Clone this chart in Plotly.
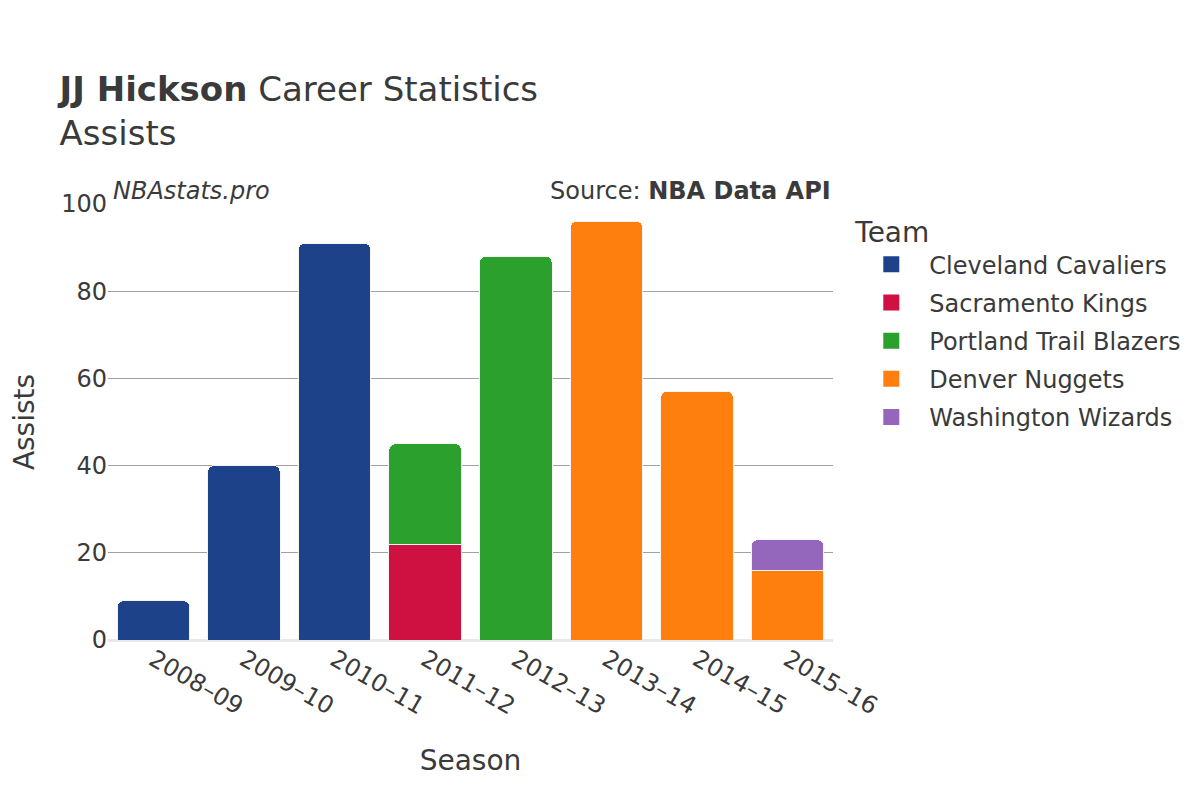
import plotly.graph_objects as go

seasons = ["2008–09", "2009–10", "2010–11", "2011–12", "2012–13", "2013–14", "2014–15", "2015–16"]
teams = ["Cleveland Cavaliers", "Sacramento Kings", "Portland Trail Blazers", "Denver Nuggets", "Washington Wizards"]
colors = ["#1d428a", "#ce1141", "#2ca02c", "#ff7f0e", "#9467bd"]
cle = [9, 40, 91, None, None, None, None, None]
sac = [None, None, None, 22, None, None, None, None]
por = [None, None, None, 23, 88, None, None, None]
den = [None, None, None, None, None, 96, 57, 16]
was = [None, None, None, None, None, None, None, 7]
values = [cle, sac, por, den, was]

fig = go.Figure()
for name, col, vals in zip(teams, colors, values):
    fig.add_trace(go.Bar(x=seasons, y=vals, name=name, legendgroup=name, showlegend=False,
                         marker=dict(color=col, line=dict(color="#f4f4f4", width=1))))
for name, col in zip(teams, colors):
    fig.add_trace(go.Scatter(x=[None], y=[None], mode="markers", name=name, legendgroup=name,
                             marker=dict(symbol="square", size=22, color=col)))

font = "DejaVu Sans"
fig.update_layout(
    width=1200, height=800,
    barmode="stack", bargap=0.2, barcornerradius=6,
    plot_bgcolor="white", paper_bgcolor="white",
    font=dict(family=font, size=24, color="#3a3a3a"),
    margin=dict(l=100, r=375, t=196, b=168, autoexpand=False),
    title=dict(text="<b>JJ Hickson</b> Career Statistics<br>Assists", x=0.043, xanchor="left", y=0.884, yanchor="top",
               font=dict(size=34, family=font, color="#3a3a3a")),
    xaxis=dict(title=dict(text="Season", font=dict(size=28), standoff=30), tickangle=30, tickfont=dict(size=24),
               showgrid=False, automargin=False),
    yaxis=dict(title=dict(text="Assists", font=dict(size=28), standoff=32), range=[0, 100], dtick=20,
               gridcolor="#a0a0a0", gridwidth=1,
               zeroline=True, zerolinecolor="#e8e8e8", zerolinewidth=3, tickfont=dict(size=24), automargin=True),
    legend=dict(title=dict(text="Team", font=dict(size=28)), x=1.028, y=0.996, yanchor="top", font=dict(size=24),
                traceorder="grouped", tracegroupgap=4, itemwidth=66),
    annotations=[
        dict(text="<i>NBAstats.pro</i>", xref="paper", yref="paper", x=0, y=1.0, xanchor="left", yanchor="bottom",
             showarrow=False, xshift=3, yshift=-3, font=dict(size=24, color="#3a3a3a")),
        dict(text="Source: <b>NBA Data API</b>", xref="paper", yref="paper", x=1.0, y=1.0, xanchor="right", yanchor="bottom",
             showarrow=False, yshift=-3, font=dict(size=24, color="#3a3a3a")),
    ],
)
fig.write_html("out.html")
